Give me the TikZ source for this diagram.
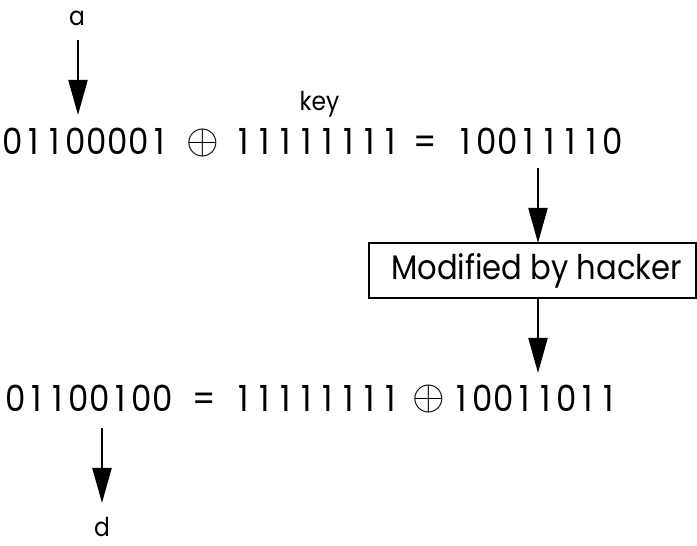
\documentclass[tikz,border=0pt]{standalone}
\usepackage{fontspec}
\setmainfont{Poppins}[FakeStretch=0.9]
\usetikzlibrary{arrows.meta}
\newcommand\onedigit[1]{\makebox[21pt]{#1}}
\newcommand\bits[1]{\bitsloop#1\relax}
\def\bitsloop#1{\ifx#1\relax\else\onedigit{#1}\expandafter\bitsloop\fi}
\begin{document}
\begin{tikzpicture}[x=1pt,y=1pt,
  big/.style={font=\fontsize{36}{40}\selectfont, inner sep=0pt, anchor=base},
  small/.style={font=\fontsize{26}{30}\selectfont, inner sep=0pt, anchor=base},
  xorsym/.style={inner sep=0pt, anchor=center},
  arr/.style={line width=2.2pt, -{Triangle[length=35pt,width=19pt]}},
  hackbox/.style={draw, line width=1.4pt, minimum width=327pt, minimum height=55pt, inner sep=0pt, font=\fontsize{34}{40}\selectfont}]
\useasboundingbox (0,0) rectangle (697,546);
% labels
\node[small] (a) at (77,520) {a};
\node[small] (key) at (319.5,435) {key};
\node[small] (d) at (102,9) {d};
% line 1
\node[big] (l1a) at (86.5,391) {\bits{01100001}};
\node[xorsym] (l1x) at (203,403) {\scalebox{4.2}{$\oplus$}};
\node[big] (l1k) at (317.5,391) {\bits{11111111}};
\node[big] (l1e) at (425,391) {=};
\node[big] (l1c) at (539,391) {\bits{10011110}};
% box
\node[hackbox] (box) at (532.5,275.5) {\hspace{8pt}Modified by hacker};
% line 2
\node[big] (l2d) at (89,134) {\bits{01100100}};
\node[big] (l2e) at (204,134) {=};
\node[big] (l2k) at (317.5,134) {\bits{11111111}};
\node[xorsym] (l2x) at (428.5,147) {\scalebox{4.2}{$\oplus$}};
\node[big] (l2c) at (535,134) {\bits{10011011}};
% arrow end points
\coordinate (p1s) at (78,506);
\coordinate (p1e) at (78,431);
\coordinate (p2s) at (538,378);
\coordinate (p2e) at (538,303);
\coordinate (p3s) at (538,248);
\coordinate (p3e) at (538,173);
\coordinate (p4s) at (102,118);
\coordinate (p4e) at (102,43);
\draw[arr] (p1s) -- (p1e);
\draw[arr] (p2s) -- (p2e);
\draw[arr] (p3s) -- (p3e);
\draw[arr] (p4s) -- (p4e);
\end{tikzpicture}
\end{document}
